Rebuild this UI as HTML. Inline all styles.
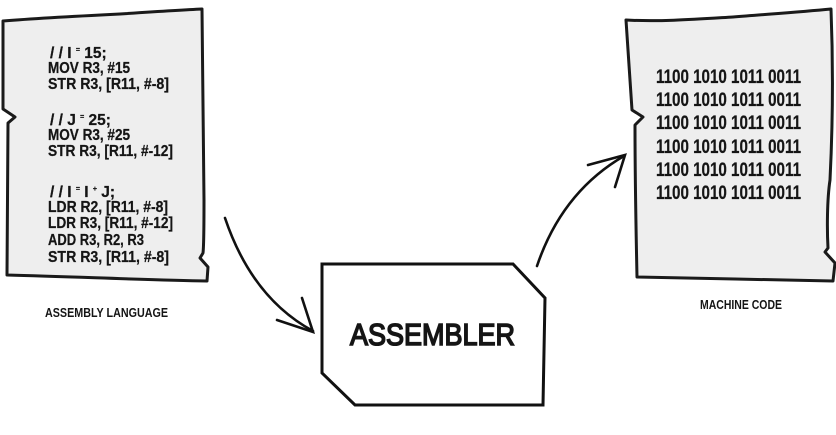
<!DOCTYPE html>
<html>
<head>
<meta charset="utf-8">
<style>
html,body{margin:0;padding:0;background:#fff;}
svg{display:block;}
text{font-family:"Liberation Sans",sans-serif;fill:#151515;}
</style>
</head>
<body>
<svg width="836" height="435" viewBox="0 0 836 435" xmlns="http://www.w3.org/2000/svg">
<rect width="836" height="435" fill="#fff"/>

<!-- Left paper -->
<path d="M3,21 C40,18 80,16 120,14 C150,12 180,10 202,9 C203,60 203,130 204,200 C204,230 204,245 203,253 L200,258 L208,267 L207,281 C150,280 80,277 7,275 C7,220 8,170 8,123 L15,117 L3,109 C3,80 3,50 3,21 Z" fill="#eeeeee" stroke="#1a1a1a" stroke-width="3" stroke-linejoin="round"/>

<g font-weight="bold" font-size="15.5" stroke="#151515" stroke-width="0.25">
<text x="50" y="58">/ / I <tspan font-size="7" baseline-shift="6">=</tspan> 15;</text>
<text x="48" y="73" textLength="82" lengthAdjust="spacingAndGlyphs">MOV R3, #15</text>
<text x="48" y="89" textLength="121" lengthAdjust="spacingAndGlyphs">STR R3, [R11, #-8]</text>

<text x="50" y="125">/ / J <tspan font-size="7" baseline-shift="6">=</tspan> 25;</text>
<text x="48" y="140" textLength="82" lengthAdjust="spacingAndGlyphs">MOV R3, #25</text>
<text x="48" y="156" textLength="125" lengthAdjust="spacingAndGlyphs">STR R3, [R11, #-12]</text>

<text x="50" y="197">/ / I <tspan font-size="7" baseline-shift="6">=</tspan> I <tspan font-size="7" baseline-shift="6">+</tspan> J;</text>
<text x="48" y="212" textLength="120" lengthAdjust="spacingAndGlyphs">LDR R2, [R11, #-8]</text>
<text x="48" y="228" textLength="125" lengthAdjust="spacingAndGlyphs">LDR R3, [R11, #-12]</text>
<text x="48" y="245" textLength="96" lengthAdjust="spacingAndGlyphs">ADD R3, R2, R3</text>
<text x="48" y="262" textLength="121" lengthAdjust="spacingAndGlyphs">STR R3, [R11, #-8]</text>
</g>

<text x="45" y="317" font-size="13" font-weight="bold" textLength="123" lengthAdjust="spacingAndGlyphs">ASSEMBLY LANGUAGE</text>

<!-- Right paper -->
<path d="M626,20 C660,22 700,19 733,17 C770,14 800,12 831,9 C833,60 833,120 830,180 C827,200 827,230 828,248 L825,252 L835,263 L833,281 C770,280 700,278 637,277 C636,230 635,180 635,125 L643,117 L632,110 C630,80 628,50 626,20 Z" fill="#eeeeee" stroke="#1a1a1a" stroke-width="3" stroke-linejoin="round"/>

<g font-weight="bold" font-size="19.5" stroke="#151515" stroke-width="0.25">
<text x="656" y="83" textLength="145" lengthAdjust="spacingAndGlyphs">1100 1010 1011 0011</text>
<text x="656" y="106" textLength="145" lengthAdjust="spacingAndGlyphs">1100 1010 1011 0011</text>
<text x="656" y="129" textLength="145" lengthAdjust="spacingAndGlyphs">1100 1010 1011 0011</text>
<text x="656" y="153" textLength="145" lengthAdjust="spacingAndGlyphs">1100 1010 1011 0011</text>
<text x="656" y="176" textLength="145" lengthAdjust="spacingAndGlyphs">1100 1010 1011 0011</text>
<text x="656" y="199" textLength="145" lengthAdjust="spacingAndGlyphs">1100 1010 1011 0011</text>
</g>

<text x="700" y="309" font-size="13" font-weight="bold" textLength="82" lengthAdjust="spacingAndGlyphs">MACHINE CODE</text>

<!-- Assembler box -->
<path d="M322,264 L513,264 L545,298 L543,405 L355,405 L322,373 Z" fill="#fff" stroke="#111" stroke-width="3" stroke-linejoin="miter"/>
<text x="350" y="345" font-size="31" font-weight="normal" stroke="#151515" stroke-width="1.6" textLength="165" lengthAdjust="spacingAndGlyphs">ASSEMBLER</text>

<!-- Arrows -->
<g fill="none" stroke="#111" stroke-width="2.6" stroke-linecap="round">
<path d="M225,218 Q252,298 313,331"/>
<path d="M277,320 L313,332 L302,298"/>
<path d="M537,266 Q562,192 624,156"/>
<path d="M588,165 L625,155 L615,187"/>
</g>
</svg>
</body>
</html>
